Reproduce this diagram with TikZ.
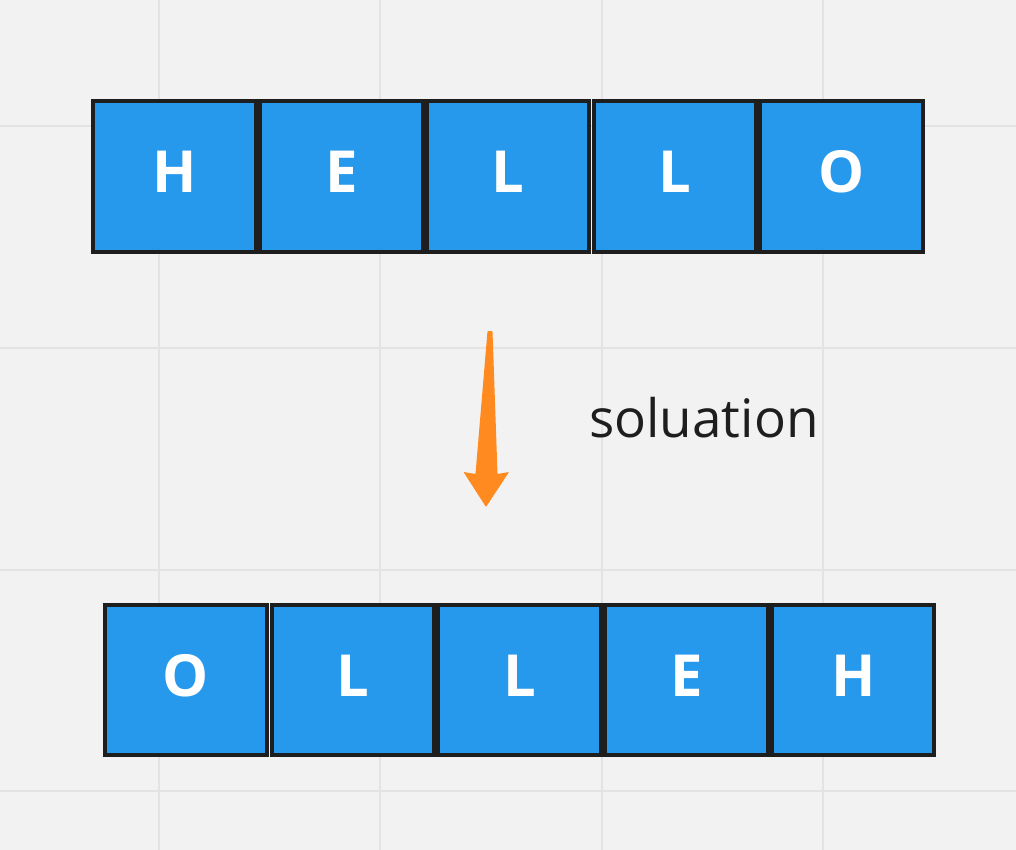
\documentclass[tikz,border=0pt]{standalone}
\usepackage{fontspec}
\setmainfont{Open Sans}
\usepackage{xcolor}
\usetikzlibrary{positioning,calc}
\definecolor{canvas}{HTML}{F2F2F2}
\definecolor{gridgray}{HTML}{E3E3E3}
\definecolor{cellblue}{HTML}{2799EC}
\definecolor{celledge}{HTML}{1E1E1E}
\definecolor{arroworange}{HTML}{FF8A1F}
\tikzset{
  cell/.style={draw=celledge, fill=cellblue, line width=4pt,
    minimum width=162.5pt, minimum height=150pt, inner sep=0pt,
    text=white, font=\fontsize{58}{58}\selectfont\bfseries,
    text height=42pt, text depth=10pt},
  gridline/.style={gridgray, line width=2pt}
}
\begin{document}
\begin{tikzpicture}[x=1pt,y=-1pt]
        \fill [canvas] (0,0) rectangle (1016,850);
        \useasboundingbox (0,0) rectangle (1016,850);

        % board grid
        \foreach \gx in {159,380,602,823} {
            \draw [gridline] (\gx,0) -- (\gx,850);
        }
        \foreach \gy in {126,348,570,791} {
            \draw [gridline] (0,\gy) -- (1016,\gy);
        }

        % input word
        \foreach \ch [count=\i from 0] in {H,E,L,L,O} {
            \node [cell] (in\i) at (174.5+166.8*\i, 176.5) {\ch};
        }

        % reversed word
        \foreach \ch [count=\i from 0] in {O,L,L,E,H} {
            \node [cell] (out\i) at (186+166.8*\i, 680) {\ch};
        }

        % arrow
        \coordinate (arrtop) at (490,331);
        \coordinate (arrbot) at (486,507);
        \fill [arroworange, rounded corners=0.8pt]
            ($(arrtop)+(-2.5,0)$) -- ($(arrtop)+(2.5,0)$)
            -- ($(arrbot)+(11.5,-33)$) -- ($(arrbot)+(23,-35)$)
            -- (arrbot)
            -- ($(arrbot)+(-22.5,-35)$) -- ($(arrbot)+(-10.5,-33)$) -- cycle;

        % label
        \node [anchor=base west, inner sep=0pt, text=celledge,
               font=\fontsize{53}{53}\selectfont] (sol) at (589,437) {soluation};
\end{tikzpicture}
\end{document}
